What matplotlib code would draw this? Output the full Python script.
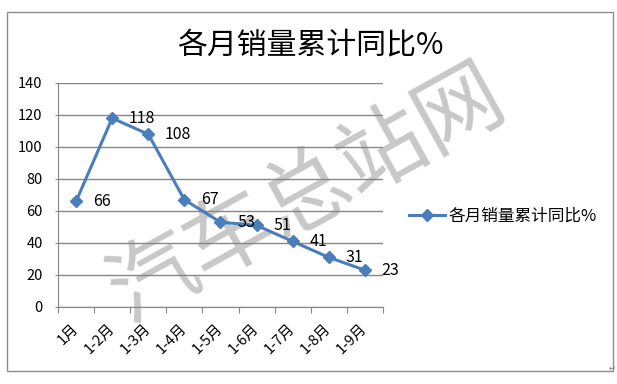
import matplotlib.pyplot as plt
from matplotlib.patches import Rectangle

plt.rcParams['font.family'] = ['Noto Sans CJK SC', 'DejaVu Sans']

months = ['1月', '1-2月', '1-3月', '1-4月', '1-5月', '1-6月', '1-7月', '1-8月', '1-9月']
growth = [66, 118, 108, 67, 53, 51, 41, 31, 23]
title = '各月销量累计同比%'

blue = '#4a7ebb'
grid = '#868686'

fig = plt.figure(figsize=(6.17, 3.84), dpi=100)
ax = fig.add_axes([58 / 617, 1 - 307 / 384, 325 / 617, 224 / 384])

# chart border
fig.patches.append(Rectangle((7 / 617, 1 - 371 / 384), 606 / 617, 359 / 384,
                             transform=fig.transFigure, fill=False,
                             edgecolor='#8c8c8c', linewidth=1))

# watermark, behind the axes
fig.text(308 / 617, 1 - 195 / 384, '汽车总站网', fontsize=63, color='#c8c8c8',
         rotation=29, ha='center', va='center', fontweight='light', zorder=-1)

x = list(range(len(months)))
ax.plot(x, growth, color=blue, linewidth=2.2, marker='D', markersize=6.5,
        label=title, zorder=3)
for xi, v in zip(x, growth):
    ax.annotate(str(v), (xi, v), xytext=(12, 0), textcoords='offset points',
                va='center', ha='left', fontsize=11.5, color='black', zorder=4)

ax.set_xlim(-0.5, len(months) - 0.5)
ax.set_ylim(0, 140)
ax.set_yticks(range(0, 141, 20))
ax.set_xticks([i - 0.5 for i in range(len(months) + 1)], minor=False)
ax.set_xticklabels([])
ax.set_xticks(x, minor=True)
ax.set_xticklabels(months, minor=True, rotation=45, ha='right', va='center',
                   rotation_mode='anchor', fontsize=10.5)
ax.tick_params(axis='x', which='minor', length=0, pad=14)
ax.tick_params(axis='x', which='major', length=4.5, color=grid, direction='out')
ax.tick_params(axis='y', length=2, color=grid, labelsize=10.5, pad=9)

ax.yaxis.grid(True, color=grid, linewidth=1)
ax.set_axisbelow(True)
ax.patch.set_alpha(0)
for s in ['top', 'right']:
    ax.spines[s].set_visible(False)
for s in ['left', 'bottom']:
    ax.spines[s].set_color(grid)

fig.text(310 / 617, 1 - 45 / 384, title, fontsize=21.5, ha='center', va='center',
         fontweight='medium')

fig.legend(loc='center left', bbox_to_anchor=(402 / 617, 1 - 216 / 384),
           frameon=False, fontsize=12, handlelength=2.2, handletextpad=0.2,
           borderaxespad=0)

fig.text(612 / 617, 1 - 368 / 384, '↵', fontsize=6, color='#808080',
         ha='center', va='center', family='DejaVu Sans')

fig.savefig('out.png', dpi=100)
